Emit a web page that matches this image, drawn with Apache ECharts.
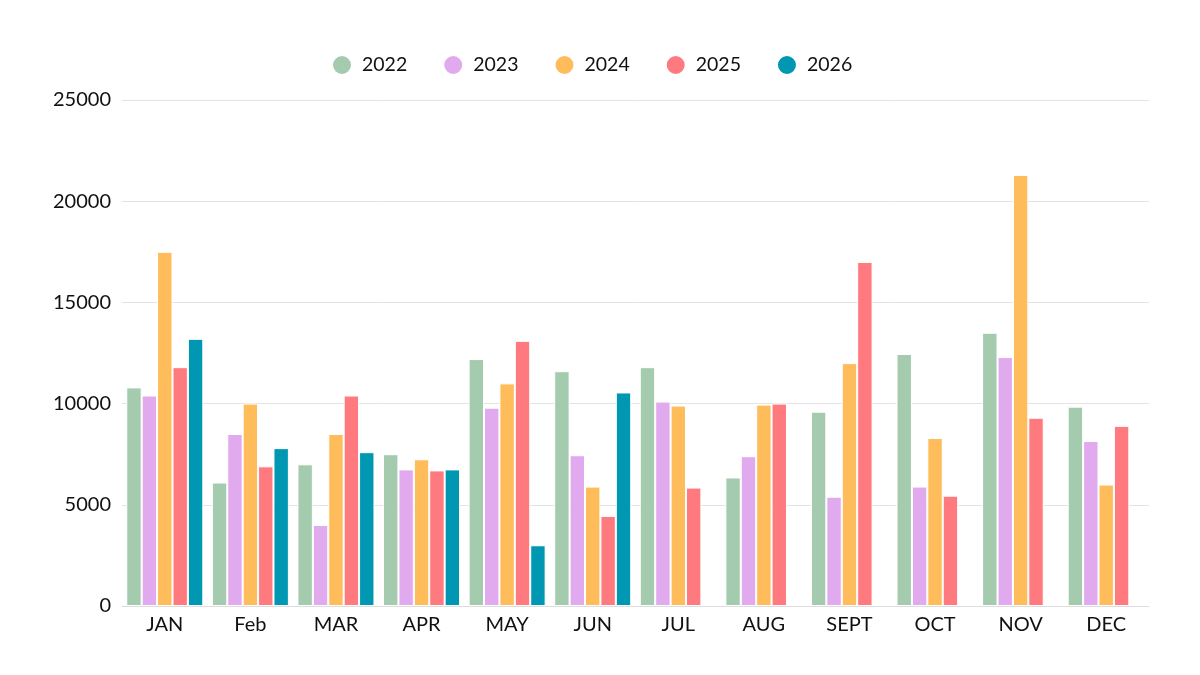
<!DOCTYPE html>
<html>
<head>
<meta charset="utf-8">
<script src="https://cdn.jsdelivr.net/npm/echarts@6/dist/echarts.min.js"></script>
<style>
  html, body { margin: 0; padding: 0; background: #fff; }
  #chart { width: 1200px; height: 675px; }
</style>
</head>
<body>
<div id="chart"></div>
<script>
var months = ['JAN', 'Feb', 'MAR', 'APR', 'MAY', 'JUN', 'JUL', 'AUG', 'SEPT', 'OCT', 'NOV', 'DEC'];
var years = ['2022', '2023', '2024', '2025', '2026'];
var colors = ['#A5CBAF', '#E2AAEE', '#FFBC5B', '#FF7A7E', '#0097B2'];

var v2022 = [10800, 6100, 7000, 7500, 12200, 11600, 11800, 6350, 9600, 12450, 13500, 9850];
var v2023 = [10400, 8500, 4000, 6750, 9800, 7450, 10100, 7400, 5400, 5900, 12300, 8150];
var v2024 = [17500, 10000, 8500, 7250, 11000, 5900, 9900, 9950, 12000, 8300, 21300, 6000];
var v2025 = [11800, 6900, 10400, 6700, 13100, 4450, 5850, 10000, 17000, 5450, 9300, 8900];
var v2026 = [13200, 7800, 7600, 6750, 3000, 10550, null, null, null, null, null, null];

var seriesValues = [v2022, v2023, v2024, v2025, v2026];

var chart = echarts.init(document.getElementById('chart'));

var option = {
  backgroundColor: '#ffffff',
  color: colors,
  textStyle: { fontFamily: 'Lato' },
  legend: {
    top: 49,
    left: 326,
    icon: 'circle',
    itemWidth: 20,
    itemHeight: 20,
    itemGap: 35,
    textStyle: {
      fontFamily: 'Lato',
      fontSize: 19.5,
      color: '#111',
      padding: [0, 0, 0, 5]
    },
    data: years
  },
  grid: {
    left: 122,
    right: 51,
    top: 100,
    bottom: 69
  },
  xAxis: {
    type: 'category',
    data: months,
    axisTick: { show: false },
    axisLine: { lineStyle: { color: '#dddddd', width: 1 } },
    axisLabel: {
      fontFamily: 'Lato',
      fontSize: 20,
      color: '#111',
      margin: 9
    }
  },
  yAxis: {
    type: 'value',
    min: 0,
    max: 25000,
    interval: 5000,
    axisLine: { show: false },
    axisTick: { show: false },
    splitLine: { lineStyle: { color: '#e3e3e3', width: 1 } },
    axisLabel: {
      fontFamily: 'Lato',
      fontSize: 20,
      color: '#111',
      margin: 11,
      formatter: function (v) { return String(v); }
    }
  },
  series: years.map(function (y, i) {
    return {
      name: y,
      type: 'bar',
      data: seriesValues[i],
      barGap: '0%',
      barCategoryGap: '10%',
      itemStyle: {
        color: colors[i],
        borderColor: '#ffffff',
        borderWidth: 1
      }
    };
  })
};

option && chart.setOption(option);
</script>
</body>
</html>
